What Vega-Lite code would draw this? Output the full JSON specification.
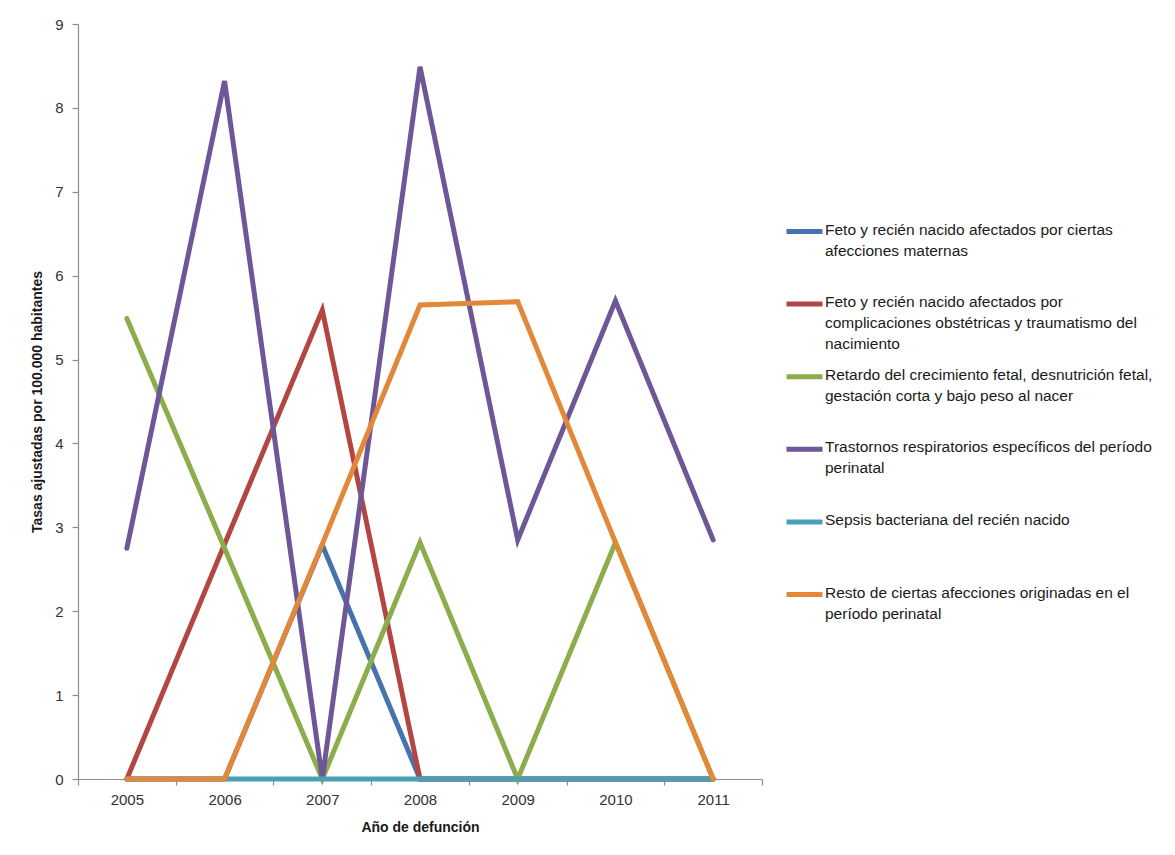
{
  "$schema": "https://vega.github.io/schema/vega-lite/v6.json",
  "width": 684,
  "height": 755,
  "autosize": {"type": "none"},
  "padding": {"left": 78, "top": 24, "right": 413, "bottom": 76},
  "background": "white",
  "config": {
    "view": {"stroke": null},
    "font": "Liberation Sans",
    "axis": {"domainColor": "#8c8c8c", "tickColor": "#8c8c8c", "labelColor": "#333333", "labelFont": "Liberation Sans", "labelFontSize": 15, "titleFont": "Liberation Sans", "titleFontSize": 14, "titleFontWeight": "bold", "titleColor": "#1a1a1a", "grid": false, "tickSize": 6, "domainWidth": 1.2, "tickWidth": 1.2}
  },
  "data": {
    "values": [
      {"serie": "Feto y recién nacido afectados por ciertas afecciones maternas", "anio": "2005", "tasa": 0},
      {"serie": "Feto y recién nacido afectados por ciertas afecciones maternas", "anio": "2006", "tasa": 0},
      {"serie": "Feto y recién nacido afectados por ciertas afecciones maternas", "anio": "2007", "tasa": 2.79},
      {"serie": "Feto y recién nacido afectados por ciertas afecciones maternas", "anio": "2008", "tasa": 0},
      {"serie": "Feto y recién nacido afectados por ciertas afecciones maternas", "anio": "2009", "tasa": 0},
      {"serie": "Feto y recién nacido afectados por ciertas afecciones maternas", "anio": "2010", "tasa": 0},
      {"serie": "Feto y recién nacido afectados por ciertas afecciones maternas", "anio": "2011", "tasa": 0},
      {"serie": "Feto y recién nacido afectados por complicaciones obstétricas y traumatismo del nacimiento", "anio": "2005", "tasa": 0},
      {"serie": "Feto y recién nacido afectados por complicaciones obstétricas y traumatismo del nacimiento", "anio": "2006", "tasa": 2.8},
      {"serie": "Feto y recién nacido afectados por complicaciones obstétricas y traumatismo del nacimiento", "anio": "2007", "tasa": 5.59},
      {"serie": "Feto y recién nacido afectados por complicaciones obstétricas y traumatismo del nacimiento", "anio": "2008", "tasa": 0},
      {"serie": "Feto y recién nacido afectados por complicaciones obstétricas y traumatismo del nacimiento", "anio": "2009", "tasa": 0},
      {"serie": "Feto y recién nacido afectados por complicaciones obstétricas y traumatismo del nacimiento", "anio": "2010", "tasa": 0},
      {"serie": "Feto y recién nacido afectados por complicaciones obstétricas y traumatismo del nacimiento", "anio": "2011", "tasa": 0},
      {"serie": "Retardo del crecimiento fetal, desnutrición fetal, gestación corta y bajo peso al nacer", "anio": "2005", "tasa": 5.49},
      {"serie": "Retardo del crecimiento fetal, desnutrición fetal, gestación corta y bajo peso al nacer", "anio": "2006", "tasa": 2.75},
      {"serie": "Retardo del crecimiento fetal, desnutrición fetal, gestación corta y bajo peso al nacer", "anio": "2007", "tasa": 0},
      {"serie": "Retardo del crecimiento fetal, desnutrición fetal, gestación corta y bajo peso al nacer", "anio": "2008", "tasa": 2.82},
      {"serie": "Retardo del crecimiento fetal, desnutrición fetal, gestación corta y bajo peso al nacer", "anio": "2009", "tasa": 0},
      {"serie": "Retardo del crecimiento fetal, desnutrición fetal, gestación corta y bajo peso al nacer", "anio": "2010", "tasa": 2.82},
      {"serie": "Retardo del crecimiento fetal, desnutrición fetal, gestación corta y bajo peso al nacer", "anio": "2011", "tasa": 0},
      {"serie": "Trastornos respiratorios específicos del período perinatal", "anio": "2005", "tasa": 2.75},
      {"serie": "Trastornos respiratorios específicos del período perinatal", "anio": "2006", "tasa": 8.32},
      {"serie": "Trastornos respiratorios específicos del período perinatal", "anio": "2007", "tasa": 0},
      {"serie": "Trastornos respiratorios específicos del período perinatal", "anio": "2008", "tasa": 8.49},
      {"serie": "Trastornos respiratorios específicos del período perinatal", "anio": "2009", "tasa": 2.85},
      {"serie": "Trastornos respiratorios específicos del período perinatal", "anio": "2010", "tasa": 5.7},
      {"serie": "Trastornos respiratorios específicos del período perinatal", "anio": "2011", "tasa": 2.85},
      {"serie": "Sepsis bacteriana del recién nacido", "anio": "2005", "tasa": 0},
      {"serie": "Sepsis bacteriana del recién nacido", "anio": "2006", "tasa": 0},
      {"serie": "Sepsis bacteriana del recién nacido", "anio": "2007", "tasa": 0},
      {"serie": "Sepsis bacteriana del recién nacido", "anio": "2008", "tasa": 0},
      {"serie": "Sepsis bacteriana del recién nacido", "anio": "2009", "tasa": 0},
      {"serie": "Sepsis bacteriana del recién nacido", "anio": "2010", "tasa": 0},
      {"serie": "Sepsis bacteriana del recién nacido", "anio": "2011", "tasa": 0},
      {"serie": "Resto de ciertas afecciones originadas en el período perinatal", "anio": "2005", "tasa": 0},
      {"serie": "Resto de ciertas afecciones originadas en el período perinatal", "anio": "2006", "tasa": 0},
      {"serie": "Resto de ciertas afecciones originadas en el período perinatal", "anio": "2007", "tasa": 2.8},
      {"serie": "Resto de ciertas afecciones originadas en el período perinatal", "anio": "2008", "tasa": 5.65},
      {"serie": "Resto de ciertas afecciones originadas en el período perinatal", "anio": "2009", "tasa": 5.69},
      {"serie": "Resto de ciertas afecciones originadas en el período perinatal", "anio": "2010", "tasa": 2.82},
      {"serie": "Resto de ciertas afecciones originadas en el período perinatal", "anio": "2011", "tasa": 0}
    ]
  },
  "mark": {"type": "line", "strokeWidth": 5, "strokeCap": "round", "strokeJoin": "miter"},
  "encoding": {
    "x": {
      "field": "anio", "type": "ordinal",
      "scale": {"type": "band", "paddingInner": 0, "paddingOuter": 0},
      "axis": {"title": "Año de defunción", "labelAngle": 0, "tickBand": "extent", "labelPadding": 7, "titlePadding": 13}
    },
    "y": {
      "field": "tasa", "type": "quantitative",
      "scale": {"domain": [0, 9], "nice": false, "zero": true},
      "axis": {"title": "Tasas ajustadas  por 100.000 habitantes", "values": [0, 1, 2, 3, 4, 5, 6, 7, 8, 9], "labelOverlap": false, "labelPadding": 9, "titlePadding": 10}
    },
    "color": {
      "field": "serie", "type": "nominal",
      "scale": {
        "domain": [
          "Feto y recién nacido afectados por ciertas afecciones maternas",
          "Feto y recién nacido afectados por complicaciones obstétricas y traumatismo del nacimiento",
          "Retardo del crecimiento fetal, desnutrición fetal, gestación corta y bajo peso al nacer",
          "Trastornos respiratorios específicos del período perinatal",
          "Sepsis bacteriana del recién nacido",
          "Resto de ciertas afecciones originadas en el período perinatal"
        ],
        "range": ["#4573AE", "#B24643", "#8BAD4B", "#6D5797", "#4A9FB8", "#E38739"]
      },
      "legend": {
        "title": null,
        "orient": "none",
        "legendX": 706,
        "legendY": 187,
        "symbolType": "stroke",
        "symbolSize": 1296,
        "symbolStrokeWidth": 5,
        "labelFont": "Liberation Sans",
        "labelFontSize": 15.5,
        "labelColor": "#1a1a1a",
        "labelLimit": 420,
        "labelOffset": 0,
        "rowPadding": 3.6,
        "gridAlign": "all",
        "labelExpr": "datum.label == 'Feto y recién nacido afectados por ciertas afecciones maternas' ? ['Feto y recién nacido afectados por ciertas', 'afecciones maternas'] : datum.label == 'Feto y recién nacido afectados por complicaciones obstétricas y traumatismo del nacimiento' ? ['Feto y recién nacido afectados por', 'complicaciones obstétricas y traumatismo del', 'nacimiento'] : datum.label == 'Retardo del crecimiento fetal, desnutrición fetal, gestación corta y bajo peso al nacer' ? ['Retardo del crecimiento fetal, desnutrición fetal,', 'gestación corta y bajo peso al nacer'] : datum.label == 'Trastornos respiratorios específicos del período perinatal' ? ['Trastornos respiratorios específicos del período', 'perinatal'] : datum.label == 'Resto de ciertas afecciones originadas en el período perinatal' ? ['Resto de ciertas afecciones originadas en el', 'período perinatal'] : datum.label",
        "labelBaseline": "top",
        "encode": {"labels": {"update": {"lineHeight": {"value": 21}, "dy": {"value": -9}}}}
      }
    }
  }
}
